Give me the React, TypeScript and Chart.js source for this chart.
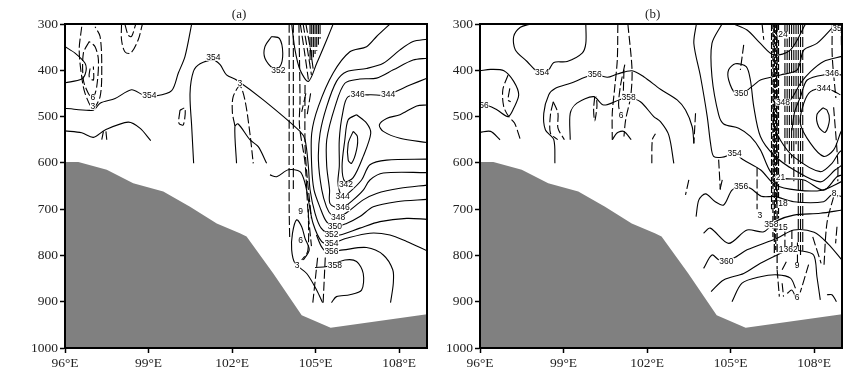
import React, { useEffect, useRef } from "react";
import { Chart, registerables } from "chart.js";

Chart.register(...registerables);

type P = [number, number];
type Lab = [string, number, number];

const terrainLon = [96, 96.48, 97.5, 98.45, 99.53, 100.49, 101.45, 102.28, 102.52, 103.48, 104.5, 105.54, 109];
const terrainP = [598, 598, 615, 644, 662, 695, 731, 752, 759, 839, 929, 956, 927];
const xTicks = [96, 99, 102, 105, 108];
const yTicks = [300, 400, 500, 600, 700, 800, 900, 1000];

const aSolid: P[][] = [
  [[96,349],[96.36,363],[96.72,385],[96.75,403],[96.6,419],[96,427]],
  [[96,482],[97.02,486],[97.26,471],[97.8,461],[98.39,442],[98.81,453],[99.29,455],[99.83,444],[100.07,406],[100.31,370],[100.55,300]],
  [[96,531],[96.6,535],[97.02,545],[97.44,529],[98.27,512],[98.69,525],[99.08,552]],
  [[102.16,601],[102.1,522],[102.22,516],[102.64,550],[102.94,565],[103.24,601]],
  [[103.42,327],[103.18,349],[103.18,374],[103.48,396],[103.72,392],[103.82,363],[103.7,331],[103.42,327]],
  [[109,475],[108.63,477],[108.03,496],[107.55,504],[107.29,518],[107.43,532],[108.03,547],[109,556]],
  [[109,417],[108.39,432],[107.55,453],[106.95,453],[106.17,457],[105.97,493],[105.85,550],[105.85,608],[105.8,640],[105.85,660],[105.97,673],[106.17,666],[106.65,637],[106.95,604],[107.55,594],[109,592]],
  [[109,374],[108.5,378],[107.79,399],[107.19,417],[106.59,419],[106.05,428],[105.7,478],[105.4,550],[105.4,608],[105.5,658],[105.51,687],[105.75,697],[105.97,697],[106.35,680],[106.71,659],[106.95,637],[107.43,622],[109,621]],
  [[109,333],[108.5,338],[108.03,356],[107.43,385],[106.83,396],[106.11,403],[105.75,424],[105.4,478],[105.16,536],[105.1,594],[105.22,658],[105.39,695],[105.57,713],[105.81,718],[106.17,705],[106.71,680],[107.19,666],[108.03,655],[109,648]],
  [[107.67,300],[107.19,327],[106.83,349],[106.23,360],[105.63,406],[105.1,478],[104.86,536],[104.86,608],[104.94,658],[105.15,695],[105.39,727],[105.69,738],[106.11,731],[106.59,716],[107.07,695],[107.91,684],[109,679]],
  [[100.62,601],[100.55,522],[100.49,450],[100.61,403],[100.85,386],[101.33,378],[101.57,388],[101.8,410],[102.16,421],[103.12,464],[104.44,532],[104.62,550],[104.74,608],[104.8,658],[104.98,709],[105.2,741],[105.57,756],[105.87,756],[106.59,741],[107.31,727],[108.27,720],[109,722]],
  [[103.36,626],[103.6,630],[104.02,615],[104.44,619],[104.62,644],[104.74,680],[104.91,731],[105.22,770],[105.57,774],[106.11,763],[106.95,752],[107.67,756],[108.27,770],[109,790]],
  [[105.03,756],[105.21,781],[105.4,792],[105.99,788],[106.83,783],[107.43,799],[107.77,831],[107.79,860],[107.69,902]],
  [[104.56,810],[104.77,788],[104.62,763],[104.5,738],[104.32,723],[104.17,752],[104.14,788],[104.26,817],[104.68,839],[105.04,875],[105.25,902]],
  [[104.98,826],[105.4,824],[106.05,810],[106.47,813],[106.71,839],[106.65,875],[106.23,885],[105.75,889],[105.57,902]],
  [[104.14,300],[104.26,356],[104.44,399],[104.74,424],[105.04,385],[105.4,334],[105.63,300]],
  [[106.47,496],[106.83,514],[106.98,536],[106.71,586],[106.35,632],[106.05,640],[105.95,608],[106.05,550],[106.17,507],[106.47,496]],
  [[106.35,532],[106.17,558],[106.17,594],[106.29,601],[106.47,572],[106.5,543],[106.35,532]],
];

const aDashed: P[][] = [
  [[96.6,306],[96.51,356],[96.6,414],[96.72,450],[97,482],[97.26,457],[97.32,392],[97.26,327],[97.08,306]],
  [[96.87,338],[96.66,363],[96.66,421],[96.84,450],[97,460],[97.14,435],[97.2,378],[97.08,349],[96.87,338]],
  [[96.9,396],[96.87,414],[97.02,421],[97.02,392]],
  [[98.03,300],[98.03,334],[98.15,360],[98.36,363],[98.63,334],[98.78,300]],
  [[98.15,300],[98.27,324],[98.39,327],[98.54,300]],
  [[100.13,486],[100.09,514],[100.25,518],[100.31,482],[100.13,486]],
  [[97.38,532],[97.32,550]],
  [[97.47,532],[97.5,550]],
  [[102.1,520],[102.01,490],[102.04,457],[102.28,434],[102.46,464],[102.64,536],[102.76,601]],
  [[104.05,300],[104.05,500],[104.05,700],[104.07,765]],
  [[104.2,300],[104.2,500],[104.2,658]],
  [[104.4,300],[104.44,464],[104.42,520],[104.62,600],[104.72,700],[104.85,780]],
  [[104.62,432],[104.62,560],[104.68,620],[104.85,720]],
  [[104.45,300],[104.6,360],[104.74,420]],
  [[104.55,300],[104.72,360],[104.85,410]],
  [[104.65,300],[104.8,350],[104.92,400]],
  [[104.65,450],[104.5,490]],
  [[104.82,450],[104.7,495]],
  [[104.74,700],[104.72,790],[104.5,810]],
  [[104.9,902],[105.08,800]],
  [[105.27,902],[105.35,800]],
];

const aBandLons = [104.8, 104.86, 104.92, 104.98, 105.04, 105.1, 105.16];
const aBandEnds = [385, 380, 372, 365, 358, 345, 332];

const aLabels: Lab[] = [
  ["354",99.03,455],["354",101.33,372],["352",103.66,401],["346",106.51,452],["344",107.6,453],
  ["6",97,460],["3",97,478],["3",102.28,428],["342",106.09,648],["344",105.97,673],["346",105.97,697],
  ["348",105.81,718],["350",105.69,738],["352",105.57,756],["354",105.57,774],["356",105.57,792],["358",105.69,823],
  ["9",104.46,705],["6",104.46,768],["3",104.34,823],
];

const bSolid: P[][] = [
  [[97.81,300],[97.45,307],[97.21,327],[97.27,356],[97.69,381],[98.05,403],[98.23,408],[98.47,399],[98.65,383],[99.13,381],[99.67,363],[99.8,342],[99.8,300]],
  [[96,401],[96.38,398],[96.86,401],[97.21,424],[97.39,453],[97.21,482],[97.01,500],[96.62,486],[96.32,477],[96,477]],
  [[96,534],[96.38,532],[96.72,550]],
  [[98.69,601],[98.65,550],[98.35,529],[98.29,493],[98.47,453],[98.71,439],[99.25,428],[99.91,412],[100.12,409],[100.57,415],[100.93,408],[101.46,401],[101.88,414],[102.48,441],[103.08,464],[103.38,486],[103.62,522],[103.68,558]],
  [[99.24,550],[99.24,493],[99.48,471],[100.08,457],[100.44,475],[101.04,463],[101.34,460],[101.76,468],[102.24,500],[102.48,511],[102.78,540],[102.96,601]],
  [[100.75,550],[100.93,535],[101.17,532],[101.43,550]],
  [[103.77,300],[103.68,342],[103.92,414],[104.16,500],[104.28,558],[104.39,586],[104.69,588],[105.14,581],[105.47,594],[106.07,615],[106.61,648],[107.39,659],[108.28,659],[109,640]],
  [[104.69,300],[104.33,342],[104.33,414],[104.57,496],[104.75,516],[105.29,525],[105.71,543],[106.07,572],[106.43,619],[106.79,633],[107.63,637],[108.34,659],[108.82,630],[109,626]],
  [[105.11,300],[105.59,313],[106.07,342],[106.55,367],[107.15,356],[107.69,300]],
  [[108.7,305],[108.1,342],[107.63,356],[107.39,399],[106.79,410],[106.07,421],[105.83,432],[105.45,449],[105.17,450],[104.93,421],[104.93,399],[105.17,386],[105.56,392],[105.71,421],[105.83,478],[106.07,543],[106.55,583],[107.27,615],[108.22,641],[108.76,615],[109,605]],
  [[109,370],[108.34,381],[107.87,403],[107.51,428],[107.15,464],[106.85,468],[106.6,475],[106.55,515],[106.79,551],[107.27,587],[108.22,619],[108.64,601],[108.88,579],[109,572]],
  [[109,410],[108.34,410],[107.75,421],[107.51,457],[107.3,490],[107.2,530]],
  [[108.94,453],[108.7,445],[108.35,439],[107.87,446],[107.63,471],[107.5,514],[107.87,558],[108.34,586],[108.7,572],[108.94,536],[109,528]],
  [[108.31,481],[108.1,496],[108.16,522],[108.4,534],[108.55,507],[108.46,486],[108.31,481]],
  [[103.76,716],[103.86,680],[104.1,667],[104.45,684],[104.75,691],[105.05,659],[105.38,651],[105.71,655],[106.1,672],[106.6,673],[107.27,684],[108.34,684],[108.64,669],[109,673]],
  [[104.03,752],[104.27,741],[104.93,774],[105.59,745],[106.19,749],[106.6,727],[107.27,713],[108.22,709],[109,702]],
  [[104.03,828],[104.33,799],[104.6,810],[105.1,806],[105.59,788],[106.67,763],[107.27,745],[108,750],[108.5,775],[109,810]],
  [[104.3,878],[104.75,853],[105.47,839],[106.07,817],[106.67,799],[107.09,788],[107.5,790],[107.98,799],[108.1,846],[108.22,896]],
  [[105.05,900],[105.41,860],[106.07,846],[106.67,842],[107.15,849],[107.33,871]],
  [[108.46,885],[108.64,885],[108.8,900]],
  [[107.03,882],[107.2,875],[107.35,893]],
];

const bDashed: P[][] = [
  [[97.01,410],[96.82,442],[96.85,478],[97.03,500],[97.24,514],[97.45,550]],
  [[97.07,439],[97.01,464],[97.1,468]],
  [[98.63,468],[98.53,496],[98.53,536],[98.79,550]],
  [[98.63,468],[98.8,493],[98.8,525],[99.03,550]],
  [[100.12,457],[100.08,486],[100.12,509],[100.2,478],[100.18,457]],
  [[100.95,300],[100.93,378],[100.83,442],[100.75,493],[100.75,550]],
  [[101.31,300],[101.46,399],[101.41,457],[101.23,507],[101.17,543]],
  [[101.2,388],[101.04,435],[100.98,478],[101.11,500]],
  [[101.17,399],[101.14,464]],
  [[102.17,601],[102.19,550],[102.3,537]],
  [[103.74,493],[103.68,558]],
  [[103.5,637],[103.38,669]],
  [[104.57,593],[104.63,658]],
  [[104.7,637],[104.6,662]],
  [[105.47,345],[105.35,399]],
  [[106.13,300],[106.19,334]],
  [[105.95,610],[105.95,700]],
  [[108.65,300],[108.65,370],[108.78,460]],
  [[108.97,300],[108.98,350]],
  [[108.7,480],[108.85,600],[108.85,640]],
  [[108.7,673],[108.46,730],[108.35,825]],
  [[107.8,820],[107.5,880]],
  [[107.95,760],[108.25,817]],
  [[107.4,772],[107.4,828]],
  [[106.85,831],[107.03,810]],
  [[106.67,831],[106.75,889]],
  [[106.85,860],[106.9,889]],
  [[108.82,738],[108.77,774]],
  [[106.95,740],[106.95,790]],
  [[107.2,745],[107.2,790]],
];

const bCoreLons = [106.47, 106.52, 106.57, 106.62, 106.67, 106.72, 106.55, 106.65];
const bCoreEnds = [700, 760, 800, 790, 830, 720, 650, 690];
const bCoreDash = [[7, 2], [5, 3], [9, 2], [4, 2], [8, 3], [6, 2], [3, 2], [11, 2]];
const bBandLons = [106.95, 107.03, 107.11, 107.19, 107.27, 107.35, 107.43, 107.51, 107.59];
const bBandEnds = [600, 560, 610, 590, 640, 560, 790, 800, 790];

const bLabels: Lab[] = [
  ["354",98.23,406],["56",96.14,477],["356",100.12,409],["358",101.34,460],["6",101.07,498],
  ["350",105.38,451],["354",105.14,581],["356",105.38,651],["24",106.88,324],["348",106.88,469],
  ["346",108.64,408],["344",108.35,439],["35",108.82,309],["21",106.79,633],["18",106.88,689],
  ["15",106.88,741],["358",106.46,734],["3",106.05,715],["1362",107.07,788],["360",104.85,813],
  ["9",107.39,823],["6",107.39,891],["8,",108.76,667],
];

const toXY = (l: P[]) => l.map(([x, y]) => ({ x, y }));

const lineSet = (l: P[], dash: number[], tension: number, width = 1.1) => ({
  data: toXY(l),
  showLine: true,
  borderColor: "#000",
  borderWidth: width,
  borderDash: dash,
  pointRadius: 0,
  tension,
  fill: false,
});

const verticals = (lons: number[], ends: number[]): P[][] =>
  lons.map((lon, i) => [[lon, 300], [lon, ends[i]]] as P[]);

function makeChart(
  canvas: HTMLCanvasElement,
  solids: P[][],
  dashed: P[][],
  bands: P[][],
  core: P[][],
  coreDash: number[][],
  labels: Lab[],
  title: string,
  titleLon: number,
  yWidth: number,
  rightPad: number,
) {
  const overlay = {
    id: "overlay",
    afterDatasetsDraw(chart: any) {
      const { ctx, chartArea, scales } = chart;
      ctx.save();
      ctx.font = "8.5px 'Liberation Sans'";
      ctx.textAlign = "center";
      ctx.textBaseline = "middle";
      labels.forEach(([t, lon, p]) => {
        const x = scales.x.getPixelForValue(lon);
        const y = scales.y.getPixelForValue(p);
        const w = ctx.measureText(t).width;
        ctx.fillStyle = "#fff";
        ctx.fillRect(x - w / 2 - 0.5, y - 3.5, w + 1, 7);
        ctx.fillStyle = "#000";
        ctx.fillText(t, x, y);
      });
      ctx.font = "13px 'Liberation Serif'";
      ctx.fillStyle = "#222";
      ctx.fillText(title, scales.x.getPixelForValue(titleLon), chartArea.top - 9);
      ctx.strokeStyle = "#000";
      ctx.lineWidth = 2;
      ctx.strokeRect(chartArea.left, chartArea.top, chartArea.right - chartArea.left, chartArea.bottom - chartArea.top);
      ctx.restore();
    },
  };
  return new Chart(canvas, {
    type: "scatter",
    data: {
      datasets: [
        ...solids.map((l) => lineSet(l, [], 0.3)),
        ...dashed.map((l) => lineSet(l, [9, 3], 0.3)),
        ...bands.map((l) => lineSet(l, [10, 3], 0)),
        ...core.map((l, i) => lineSet(l, coreDash[i], 0, 1.2)),
        {
          data: terrainLon.map((x, i) => ({ x, y: terrainP[i] })),
          showLine: true,
          borderWidth: 0,
          borderColor: "#808080",
          backgroundColor: "#808080",
          pointRadius: 0,
          tension: 0,
          fill: { value: 1000 },
        },
      ] as any,
    },
    options: {
      responsive: false,
      animation: false,
      events: [],
      layout: { padding: { top: 24, right: rightPad, left: 0, bottom: 0 } },
      plugins: { legend: { display: false }, tooltip: { enabled: false } },
      scales: {
        x: {
          type: "linear",
          min: 96,
          max: 109,
          afterBuildTicks: (s: any) => { s.ticks = xTicks.map((value) => ({ value })); },
          afterFit: (s: any) => { s.height = 29; },
          grid: { drawOnChartArea: false, tickLength: 5, tickColor: "#000", tickWidth: 1.5 },
          border: { color: "#000", width: 2 },
          ticks: {
            maxRotation: 0,
            autoSkip: false,
            padding: 2,
            color: "#222",
            font: { family: "'Liberation Serif'", size: 13.5 },
            callback: (v: any) => `${v}°E`,
          },
        },
        y: {
          type: "linear",
          reverse: true,
          min: 300,
          max: 1000,
          afterBuildTicks: (s: any) => { s.ticks = yTicks.map((value) => ({ value })); },
          afterFit: (s: any) => { s.width = yWidth; },
          grid: { drawOnChartArea: false, tickLength: 5, tickColor: "#000", tickWidth: 1.5 },
          border: { color: "#000", width: 2 },
          ticks: {
            autoSkip: false,
            padding: 2,
            color: "#222",
            font: { family: "'Liberation Serif'", size: 13.5 },
            callback: (v: any) => String(v),
          },
        },
      },
    } as any,
    plugins: [overlay],
  });
}

export default function App() {
  const aRef = useRef<HTMLCanvasElement>(null);
  const bRef = useRef<HTMLCanvasElement>(null);
  useEffect(() => {
    const a = makeChart(aRef.current!, aSolid, aDashed, verticals(aBandLons, aBandEnds), [], [], aLabels, "(a)", 102.25, 65, 13);
    const b = makeChart(bRef.current!, bSolid, bDashed, verticals(bBandLons, bBandEnds), verticals(bCoreLons, bCoreEnds), bCoreDash, bLabels, "(b)", 102.2, 40, 25);
    return () => {
      a.destroy();
      b.destroy();
    };
  }, []);
  return (
    <div style={{ position: "fixed", left: 0, top: 0, width: 867, height: 377, background: "#fff", overflow: "hidden" }}>
      <canvas ref={aRef} width={440} height={377} style={{ position: "absolute", left: 0, top: 0, width: 440, height: 377, display: "block" }} />
      <canvas ref={bRef} width={427} height={377} style={{ position: "absolute", left: 440, top: 0, width: 427, height: 377, display: "block" }} />
    </div>
  );
}
